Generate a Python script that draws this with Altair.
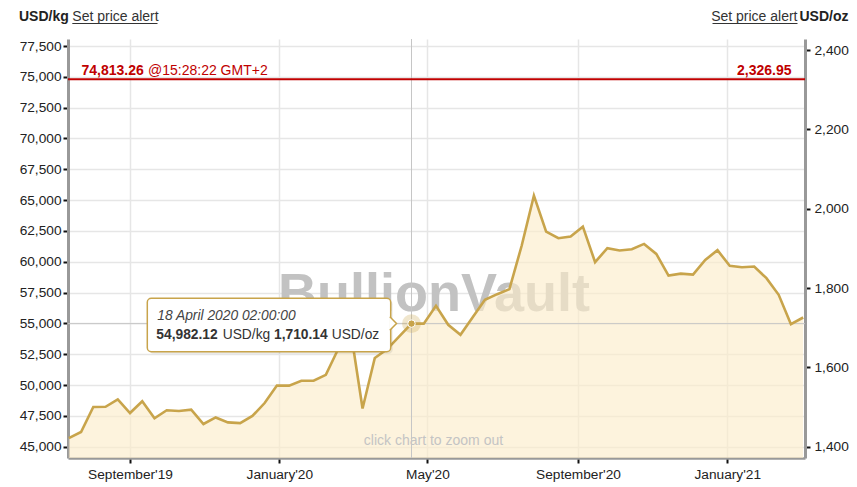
import altair as alt
import pandas as pd

# ---------------- data ----------------
dates = [
    "2019-07-13", "2019-07-23", "2019-08-02", "2019-08-12", "2019-08-22", "2019-09-01",
    "2019-09-11", "2019-09-21", "2019-10-01", "2019-10-11", "2019-10-21", "2019-10-31",
    "2019-11-10", "2019-11-20", "2019-11-30", "2019-12-10", "2019-12-20", "2019-12-30",
    "2020-01-09", "2020-01-19", "2020-01-29", "2020-02-08", "2020-02-18", "2020-02-28",
    "2020-03-09", "2020-03-19", "2020-03-29", "2020-04-08", "2020-04-18", "2020-04-28",
    "2020-05-08", "2020-05-18", "2020-05-28", "2020-06-07", "2020-06-17", "2020-06-27",
    "2020-07-07", "2020-07-17", "2020-07-27", "2020-08-06", "2020-08-16", "2020-08-26",
    "2020-09-05", "2020-09-15", "2020-09-25", "2020-10-05", "2020-10-15", "2020-10-25",
    "2020-11-04", "2020-11-14", "2020-11-24", "2020-12-04", "2020-12-14", "2020-12-24",
    "2021-01-03", "2021-01-13", "2021-01-23", "2021-02-02", "2021-02-12", "2021-02-22",
    "2021-03-04",
]
usd_kg = [
    45700, 46190, 48220, 48240, 48840, 47730,
    48690, 47310, 47960, 47900, 48000, 46840,
    47370, 46970, 46910, 47490, 48540, 49960,
    49950, 50350, 50350, 50830, 52900, 54600,
    48100, 52200, 52900, 53950, 54982.12, 54980,
    56430, 54890, 54080, 55500, 56910, 57370,
    57780, 61300, 65360, 62450, 61910, 62040,
    62850, 59970, 61100, 60910, 61020, 61450,
    60640, 58880, 59040, 58960, 60150, 60940,
    59670, 59560, 59610, 58670, 57320, 54940,
    55480,
]
x_tick_dates = [(2019, 9, 1), (2020, 1, 1), (2020, 5, 1), (2020, 9, 1), (2021, 1, 1)]
kg_ticks = [45000, 47500, 50000, 52500, 55000, 57500, 60000, 62500, 65000,
            67500, 70000, 72500, 75000, 77500]
oz_ticks = [1400, 1600, 1800, 2000, 2200, 2400]
OZ_PER_KG = 32.1507466
spot_kg = 74813.26
spot_oz = 2326.95
spot_time = "@15:28:22 GMT+2"
hover_date = "2020-04-18"
hover_kg = 54982.12
hover_oz = 1710.14
hover_label = "18 April 2020 02:00:00"

KG_DOMAIN = [44083, 78068]
OZ_DOMAIN = [KG_DOMAIN[0] / OZ_PER_KG, KG_DOMAIN[1] / OZ_PER_KG]

FONT = "Liberation Sans"
GOLD = "#c8a44b"
RED = "#c00000"
W, H = 737, 419

df = pd.DataFrame({"date": pd.to_datetime(dates), "kg": usd_kg,
                   "base": [KG_DOMAIN[0]] * len(usd_kg)})
hover_df = pd.DataFrame({"date": pd.to_datetime([hover_date]), "kg": [hover_kg]})
spot_df = pd.DataFrame({"kg": [spot_kg], "oz": [spot_oz]})
one = pd.DataFrame({"k": [0]})

# ---------------- scales / axes ----------------
x_scale = alt.Scale(domain=[alt.DateTime(year=2019, month=7, date=12, hours=8),
                            alt.DateTime(year=2021, month=3, date=5, hours=12)])
x_axis = alt.Axis(values=[alt.DateTime(year=y, month=m, date=d) for y, m, d in x_tick_dates],
                  format="%B'%y", formatType="time", title=None,
                  grid=True, gridColor="#e6e6e6", gridWidth=1.5,
                  domainColor="#999999", domainWidth=2.5,
                  tickColor="#111111", tickWidth=2, tickSize=5,
                  labelFont=FONT, labelFontSize=13.7, labelColor="#222222",
                  labelPadding=4, labelFlush=False, labelOverlap=False)
kg_scale = alt.Scale(domain=KG_DOMAIN, nice=False, zero=False)
kg_axis = alt.Axis(values=kg_ticks, format=",.0f", title=None, orient="left",
                   grid=True, gridColor="#e6e6e6", gridWidth=1.5,
                   domainColor="#999999", domainWidth=3,
                   tickColor="#111111", tickWidth=2, tickSize=5,
                   labelFont=FONT, labelFontSize=13.7, labelColor="#222222",
                   labelPadding=2, labelOverlap=False, labelFlush=False)
oz_scale = alt.Scale(domain=OZ_DOMAIN, nice=False, zero=False)
oz_axis = alt.Axis(values=oz_ticks, format=",.0f", title=None, orient="right",
                   grid=False, domainColor="#999999", domainWidth=3,
                   tickColor="#111111", tickWidth=2, tickSize=5,
                   labelFont=FONT, labelFontSize=13.7, labelColor="#222222",
                   labelPadding=4, labelOverlap=False, labelFlush=False)


def X(field="date"):
    return alt.X(f"{field}:T", scale=x_scale, axis=x_axis, title=None)


def Ykg(field="kg"):
    return alt.Y(f"{field}:Q", scale=kg_scale, axis=kg_axis, title=None)


def px(x):  # page x -> plot x
    return alt.value(x - 68)


def py(y):  # page y -> plot y
    return alt.value(y - 39)


def label(txt, x, y, size=14, weight="normal", color="#222222", align="left", style="normal"):
    return alt.Chart(one).mark_text(
        text=txt, align=align, baseline="alphabetic", font=FONT, fontSize=size,
        fontWeight=weight, fontStyle=style, color=color
    ).encode(x=px(x), y=py(y))


# ---------------- kg layers ----------------
watermark = alt.Chart(one).mark_text(
    text="BullionVault", font=FONT, fontSize=54, fontWeight="bold",
    color="#c2c2c2", align="center", baseline="alphabetic"
).encode(x=px(434), y=py(311))

area = alt.Chart(df).mark_area(color="#fcebc8", opacity=0.62, interpolate="linear").encode(
    x=X(), y=Ykg(), y2="base:Q"
)
zoom_hint = alt.Chart(one).mark_text(
    text="click chart to zoom out", font=FONT, fontSize=14, color="#c4c4c4",
    align="center", baseline="alphabetic"
).encode(x=px(433.5), y=py(445))

cross_v = alt.Chart(hover_df).mark_rule(color="#c6c6c6", strokeWidth=1).encode(x=X())
cross_h = alt.Chart(hover_df).mark_rule(color="#c6c6c6", strokeWidth=1).encode(y=Ykg())

price_line = alt.Chart(df).mark_line(color=GOLD, strokeWidth=2.6, interpolate="linear").encode(
    x=X(), y=Ykg()
)
spot_rule = alt.Chart(spot_df).mark_rule(color=RED, strokeWidth=2).encode(y=Ykg())
spot_left_num = alt.Chart(spot_df).mark_text(
    text=f"{spot_kg:,.2f}", font=FONT, fontSize=14, fontWeight="bold", color=RED,
    align="left", baseline="alphabetic", dy=-4
).encode(x=px(81.5), y=Ykg())
spot_left_time = alt.Chart(spot_df).mark_text(
    text=spot_time, font=FONT, fontSize=14, color=RED,
    align="left", baseline="alphabetic", dy=-4
).encode(x=px(148), y=Ykg())
spot_right_num = alt.Chart(spot_df).mark_text(
    text=f"{spot_oz:,.2f}", font=FONT, fontSize=14, fontWeight="bold", color=RED,
    align="right", baseline="alphabetic", dy=-4
).encode(x=px(791.5), y=Ykg())

halo = alt.Chart(hover_df).mark_point(filled=True, shape="circle", size=360,
                                      color=GOLD, opacity=0.28).encode(x=X(), y=Ykg())
marker = alt.Chart(hover_df).mark_point(filled=True, shape="circle", size=55, color=GOLD,
                                        stroke="#ffffff", strokeWidth=1, opacity=1).encode(x=X(), y=Ykg())

kg_layers = alt.layer(watermark, area, zoom_hint, cross_v, cross_h, price_line,
                      spot_rule, spot_left_num, spot_left_time, spot_right_num,
                      halo, marker)

# ---------------- oz axis layer ----------------
oz_layer = alt.Chart(spot_df).mark_rule(color=RED, strokeWidth=2, opacity=0).encode(
    y=alt.Y("oz:Q", scale=oz_scale, axis=oz_axis, title=None)
)

# ---------------- headers ----------------
hdr_left_unit = label("USD/kg", 19, 21, weight="bold", color="#222222")
hdr_left_link = label("Set price alert", 72.3, 21, color="#333333")
hdr_left_ul = alt.Chart(one).mark_rule(color="#333333", strokeWidth=1).encode(
    x=px(72.3), x2=px(157.5), y=py(23.5))
hdr_right_unit = label("USD/oz", 848.5, 21, weight="bold", color="#222222", align="right")
hdr_right_link = label("Set price alert", 797.5, 21, color="#333333", align="right")
hdr_right_ul = alt.Chart(one).mark_rule(color="#333333", strokeWidth=1).encode(
    x=px(712.5), x2=px(797.5), y=py(23.5))

# ---------------- tooltip ----------------
tip_shadow = alt.Chart(one).mark_rect(color="#000000", opacity=0.08, cornerRadius=4).encode(
    x=px(149.3), x2=px(392.7), y=py(300.3), y2=py(353.7))
tip_box = alt.Chart(one).mark_rect(fill="#ffffff", stroke=GOLD, strokeWidth=1.5,
                                   cornerRadius=4).encode(
    x=px(147.3), x2=px(390.7), y=py(298.3), y2=py(351.7))
tip_pointer = alt.Chart(one).mark_point(
    shape="M0,-1L1,0L0,1", size=180, filled=False, fill="#ffffff", stroke=GOLD,
    strokeWidth=1.5, opacity=1
).encode(x=px(389.8), y=py(323.5))
tip_date = label(hover_label, 157.3, 320, size=13.8, color="#444444", style="italic")
tip_kg_num = label(f"{hover_kg:,.2f}", 156.3, 338.5, size=13.8, weight="bold", color="#333333")
tip_kg_unit = label("USD/kg", 222.7, 338.5, size=13.8, color="#333333")
tip_oz_num = label(f"{hover_oz:,.2f}", 274, 338.5, size=13.8, weight="bold", color="#333333")
tip_oz_unit = label("USD/oz", 331.7, 338.5, size=13.8, color="#333333")

chart = alt.layer(
    kg_layers, oz_layer,
    hdr_left_unit, hdr_left_link, hdr_left_ul, hdr_right_unit, hdr_right_link, hdr_right_ul,
    tip_shadow, tip_box, tip_pointer, tip_date, tip_kg_num, tip_kg_unit, tip_oz_num, tip_oz_unit,
).resolve_scale(y="independent").properties(
    width=W, height=H,
    autosize=alt.AutoSizeParams(type="none"),
    padding={"left": 60, "top": 31, "right": 44, "bottom": 29},
    background="#ffffff",
).configure_view(stroke=None)

chart.save("out.html", embed_options={"renderer": "svg", "actions": False})
